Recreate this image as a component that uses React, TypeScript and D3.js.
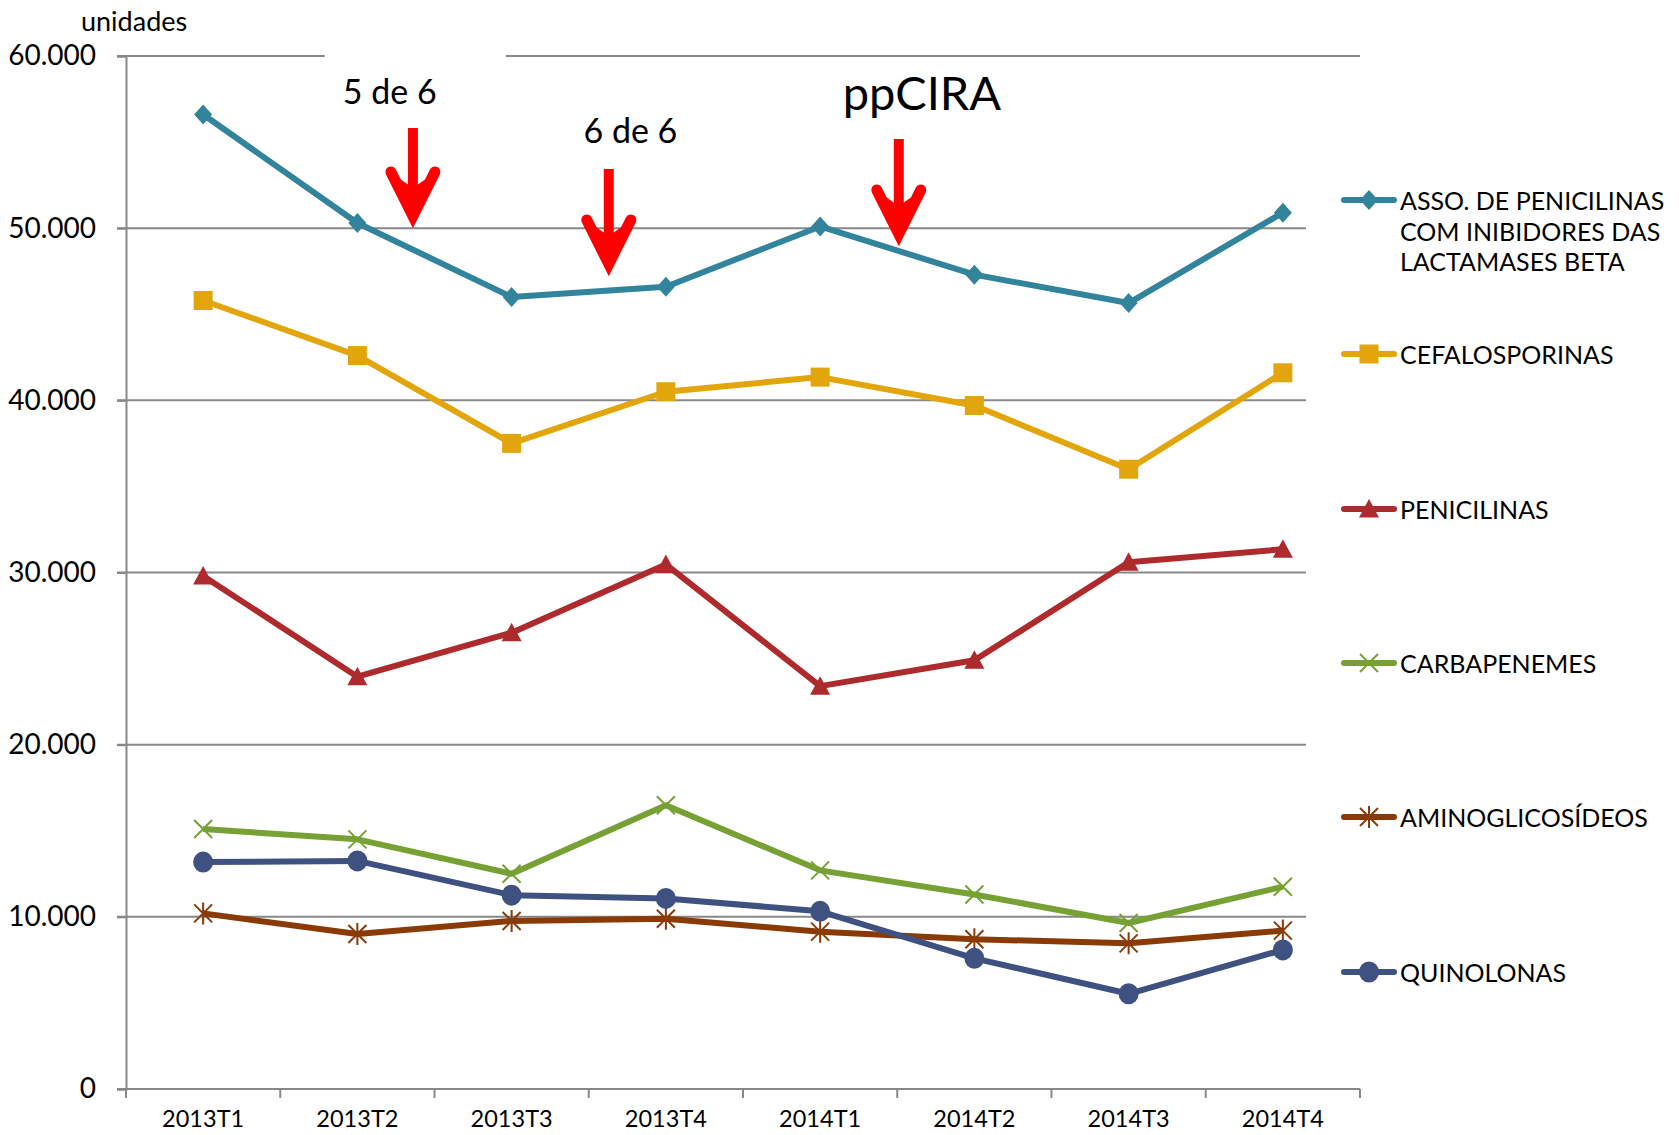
import { useEffect, useRef } from 'react'
import * as d3 from 'd3'

const periods = ['2013T1', '2013T2', '2013T3', '2013T4', '2014T1', '2014T2', '2014T3', '2014T4']
const yTicks = [0, 10000, 20000, 30000, 40000, 50000, 60000]

const assoValues = [56600, 50300, 46000, 46600, 50100, 47300, 45650, 50900]
const cefaloValues = [45800, 42600, 37500, 40500, 41350, 39700, 36000, 41600]
const peniValues = [29800, 23950, 26500, 30470, 23400, 24900, 30600, 31350]
const carbaValues = [15100, 14500, 12500, 16480, 12700, 11300, 9640, 11750]
const aminoValues = [10200, 9000, 9760, 9890, 9140, 8700, 8460, 9200]
const quinoValues = [13180, 13250, 11260, 11070, 10320, 7590, 5530, 8080]

const seriesNames = [
  ['ASSO. DE PENICILINAS', 'COM INIBIDORES DAS', 'LACTAMASES BETA'],
  ['CEFALOSPORINAS'],
  ['PENICILINAS'],
  ['CARBAPENEMES'],
  ['AMINOGLICOSÍDEOS'],
  ['QUINOLONAS'],
]
const seriesColors = ['#31849B', '#E3A50C', '#AE2A2C', '#77A134', '#8A3A06', '#3F5180']
const seriesMarkers = ['diamond', 'square', 'triangle', 'x', 'star', 'circle']

// annotations: position in category index units
const notes = [
  { label: '5 de 6', textAt: 1.21, arrowAt: 1.36, size: 34, textY: 90, top: 128, tip: 216 },
  { label: '6 de 6', textAt: 2.77, arrowAt: 2.63, size: 34, textY: 129, top: 169, tip: 264 },
  { label: 'ppCIRA', textAt: 4.66, arrowAt: 4.51, size: 47, textY: 92, top: 139, tip: 234 },
]

const FONT = 'Lato, "Open Sans", sans-serif'

const markerPath = (kind: string) => {
  switch (kind) {
    case 'diamond':
      return 'M0,-10L9,0L0,10L-9,0Z'
    case 'square':
      return 'M-9.5,-9.5H9.5V9.5H-9.5Z'
    case 'triangle':
      return 'M0,-10L10,8.5H-10Z'
    case 'circle':
      return 'M-10,0A10,10.5 0 1,0 10,0A10,10.5 0 1,0 -10,0Z'
    case 'x':
      return 'M-9,-9L9,9M-9,9L9,-9'
    case 'star':
      return 'M-9,-9L9,9M-9,9L9,-9M0,-11V11'
  }
  return ''
}

export default () => {
  const rootRef = useRef<SVGSVGElement>(null)

  useEffect(() => {
    const width = 1679,
      height = 1135
    const margin = { top: 56, left: 126, right: 1360, bottom: 1089 }

    const root = d3.select(rootRef.current).attr('width', width).attr('height', height)
    root.selectAll('*').remove()
    const svg = root.append('g')

    const x = d3.scaleBand().domain(periods).range([margin.left, margin.right])
    const xc = (i: number) => margin.left + x.bandwidth() * (i + 0.5)
    const y = d3.scaleLinear().domain([0, 60000]).range([margin.bottom, margin.top])

    const fmt = (v: number) => d3.format(',')(v).replace(/,/g, '.')

    // gridlines
    svg
      .append('g')
      .selectAll('line')
      .data(yTicks.filter((d) => d > 0))
      .join('line')
      .attr('x1', margin.left - 9)
      .attr('x2', margin.right)
      .attr('y1', (d) => y(d))
      .attr('y2', (d) => y(d))
      .attr('stroke', '#888')
      .attr('stroke-width', 2)

    // white box behind "5 de 6" hides part of the top gridline
    svg
      .append('rect')
      .attr('x', xc(1.21) - 65)
      .attr('y', margin.top - 4)
      .attr('width', 181)
      .attr('height', 60)
      .attr('fill', '#fff')

    // y axis
    const yAxis = svg
      .append('g')
      .attr('transform', `translate(${margin.left},0)`)
      .call(d3.axisLeft(y).tickValues(yTicks).tickSize(9).tickFormat((d) => fmt(+d)))
    yAxis.select('.domain').attr('stroke', '#888').attr('stroke-width', 2)
    yAxis.selectAll('.tick line').attr('stroke', '#888').attr('stroke-width', 2)
    yAxis
      .selectAll('.tick text')
      .attr('font-family', FONT)
      .attr('font-size', 28)
      .attr('fill', '#000')
      .attr('x', -30)

    // x axis
    svg
      .append('line')
      .attr('x1', margin.left - 9)
      .attr('x2', margin.right)
      .attr('y1', margin.bottom)
      .attr('y2', margin.bottom)
      .attr('stroke', '#888')
      .attr('stroke-width', 2)
    svg
      .append('g')
      .selectAll('line')
      .data(d3.range(periods.length + 1))
      .join('line')
      .attr('x1', (i) => margin.left + i * x.bandwidth())
      .attr('x2', (i) => margin.left + i * x.bandwidth())
      .attr('y1', margin.bottom)
      .attr('y2', margin.bottom + 9)
      .attr('stroke', '#888')
      .attr('stroke-width', 2)
    svg
      .append('g')
      .selectAll('text')
      .data(periods)
      .join('text')
      .attr('x', (d, i) => xc(i))
      .attr('y', margin.bottom + 38)
      .attr('text-anchor', 'middle')
      .attr('font-family', FONT)
      .attr('font-size', 23.5)
      .text((d) => d)

    svg
      .append('text')
      .attr('x', 81)
      .attr('y', 31)
      .attr('font-family', FONT)
      .attr('font-size', 27)
      .text('unidades')

    // annotations
    notes.forEach((n) => {
      const tx = xc(n.textAt)
      const ax = xc(n.arrowAt)
      svg
        .append('text')
        .attr('x', tx)
        .attr('y', n.textY)
        .attr('text-anchor', 'middle')
        .attr('dominant-baseline', 'central')
        .attr('font-family', FONT)
        .attr('font-size', n.size)
        .text(n.label)
      const headTop = n.tip - 48
      svg
        .append('rect')
        .attr('x', ax - 5)
        .attr('y', n.top)
        .attr('width', 10)
        .attr('height', headTop - n.top + 20)
        .attr('fill', '#FF0000')
      svg
        .append('path')
        .attr('d', `M${ax - 22},${headTop + 4}L${ax},${n.tip}L${ax + 22},${headTop + 4}`)
        .attr('fill', 'none')
        .attr('stroke', '#FF0000')
        .attr('stroke-width', 11)
        .attr('stroke-linecap', 'round')
        .attr('stroke-linejoin', 'miter')
      svg
        .append('path')
        .attr('d', `M${ax - 20},${headTop + 6}L${ax},${n.tip - 4}L${ax + 20},${headTop + 6}L${ax},${headTop + 20}Z`)
        .attr('fill', '#FF0000')
    })

    const allValues = [assoValues, cefaloValues, peniValues, carbaValues, aminoValues, quinoValues]

    // legend background
    svg.append('rect').attr('x', 1306).attr('y', 140).attr('width', 373).attr('height', 900).attr('fill', '#fff')

    // draw series bottom-first so teal stays on top like the source
    const order = [4, 5, 3, 2, 1, 0]
    order.forEach((s) => {
      const vals = allValues[s]
      const color = seriesColors[s]
      const g = svg.append('g')
      g.append('path')
        .datum(vals)
        .attr('fill', 'none')
        .attr('stroke', color)
        .attr('stroke-width', 6)
        .attr('stroke-linejoin', 'round')
        .attr(
          'd',
          d3
            .line<number>()
            .x((d, i) => xc(i))
            .y((d) => y(d))
        )
      const stroked = seriesMarkers[s] === 'x' || seriesMarkers[s] === 'star'
      g.selectAll('path.m')
        .data(vals)
        .join('path')
        .attr('class', 'm')
        .attr('transform', (d, i) => `translate(${xc(i)},${y(d)})`)
        .attr('d', markerPath(seriesMarkers[s]))
        .attr('fill', stroked ? 'none' : color)
        .attr('stroke', color)
        .attr('stroke-width', stroked ? 2 : 0)
    })

    // legend
    const legY = [200, 354, 509, 663, 817, 972]
    seriesNames.forEach((lines, s) => {
      const color = seriesColors[s]
      const stroked = seriesMarkers[s] === 'x' || seriesMarkers[s] === 'star'
      const ly = legY[s]
      svg
        .append('line')
        .attr('x1', 1344)
        .attr('x2', 1394)
        .attr('y1', ly)
        .attr('y2', ly)
        .attr('stroke', color)
        .attr('stroke-width', 6)
        .attr('stroke-linecap', 'round')
      svg
        .append('path')
        .attr('transform', `translate(1369,${ly})`)
        .attr('d', markerPath(seriesMarkers[s]))
        .attr('fill', stroked ? 'none' : color)
        .attr('stroke', color)
        .attr('stroke-width', stroked ? 2 : 0)
      const t = svg
        .append('text')
        .attr('x', 1400)
        .attr('y', ly)
        .attr('dominant-baseline', 'central')
        .attr('font-family', FONT)
        .attr('font-size', 25)
      lines.forEach((l, i) => {
        t.append('tspan')
          .attr('x', 1400)
          .attr('dy', i === 0 ? 0 : 30.5)
          .text(l)
      })
    })
  }, [])

  return <svg ref={rootRef} style={{ position: 'absolute', left: 0, top: 0, background: '#fff' }}></svg>
}
